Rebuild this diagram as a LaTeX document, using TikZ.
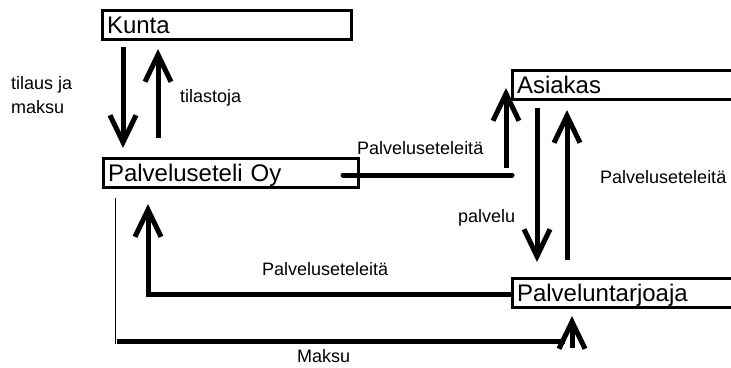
\documentclass[tikz,border=0pt]{standalone}
\usepackage{fontspec}
\setmainfont{Liberation Sans}
\usetikzlibrary{arrows.meta,calc}

\begin{document}
\begin{tikzpicture}[x=1pt,y=-1pt,
  entity/.style={draw, line width=3pt, rectangle, anchor=north west, outer sep=0pt,
    inner xsep=5pt, inner ysep=0pt, minimum height=29pt, text height=17pt,
    text depth=0pt, align=left, font=\fontsize{24}{27}\selectfont},
  bigarrow/.style={line width=5pt, -{Straight Barb[length=27pt,width=26pt]}},
  conn/.style={line width=5pt},
  thin/.style={line width=1pt},
  lbl/.style={anchor=base west, inner sep=0pt, font=\fontsize{18}{24}\selectfont, align=left},
]
\useasboundingbox (0,0) rectangle (731,367);
\clip (0,0) rectangle (731,367);

% parties
\node[entity, text width=239pt] (kunta)   at (102,10)  {Kunta};
\node[entity, text width=245pt] (pso)     at (103,158) {Palveluseteli Oy};
\node[entity, text width=230pt] (asiakas) at (512,70)  {Asiakas};
\node[entity, text width=230pt] (pt)      at (512,278) {Palveluntarjoaja};

% Kunta <-> Palveluseteli Oy
\draw[bigarrow, shorten <=8pt, shorten >=10pt]
  ([xshift=21pt]kunta.south west) -- ([xshift=20pt]pso.north west);
\draw[bigarrow, shorten <=20pt, shorten >=10pt]
  ([xshift=55pt]pso.north west) -- ([xshift=56pt]kunta.south west);

% Asiakas <-> Palveluntarjoaja
\draw[bigarrow, shorten <=9pt, shorten >=16pt]
  ([xshift=25pt]asiakas.south west) -- ([xshift=25pt]pt.north west);
\draw[bigarrow, shorten <=18pt, shorten >=11pt]
  ([xshift=55pt]pt.north west) -- ([xshift=55pt]asiakas.south west);

% vouchers from Palveluseteli Oy to Asiakas
\draw[conn, line cap=round] ($(pso.east)+(-15,2.5)$) coordinate (h1) -- (h1 -| asiakas.west);
\draw[bigarrow] ($(asiakas.south west)+(-6,69)$) -- ($(asiakas.south west)+(-6,-11)$);

% vouchers from Palveluntarjoaja back to Palveluseteli Oy
\draw[bigarrow, shorten >=17pt] ($(pt.west)+(0,2)$) -| ($(pso.south west)+(45,0)$);

% payment to Palveluntarjoaja
\draw[thin] ($(pso.south west)+(12,11)$) -- ++(0,146) coordinate (m0);
\draw[conn] ($(m0)+(2,-3)$) -- ++(448,0);
\draw[bigarrow] ($(pt.south west)+(60,41)$) -- ($(pt.south west)+(60,9)$);

% labels
\node[lbl] (l1) at (11,113)  {tilaus ja\\maksu};
\node[lbl] (l2) at (180,102) {tilastoja};
\node[lbl] (l3) at (357,154) {Palveluseteleitä};
\node[lbl] (l4) at (600,183) {Palveluseteleitä};
\node[lbl] (l5) at (458,222) {palvelu};
\node[lbl] (l6) at (262,275) {Palveluseteleitä};
\node[lbl] (l7) at (297,362) {Maksu};
\end{tikzpicture}
\end{document}
